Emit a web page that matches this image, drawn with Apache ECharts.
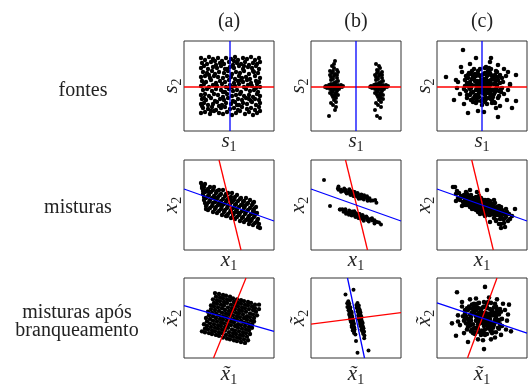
<!DOCTYPE html>
<html><head><meta charset="utf-8">
<script src="https://cdn.jsdelivr.net/npm/echarts@6.0.0/dist/echarts.min.js"></script>
<style>html,body{margin:0;padding:0;background:#fff}#c{width:531px;height:388px}</style>
</head><body><div id="c"></div>
<script>
const colTitles = ['(a)', '(b)', '(c)'];
const rowLabels = ['fontes', 'misturas', 'misturas após\nbranqueamento'];
const axisVars = ['s', 'x', 'x\u0303'];
const subX = '1', subY = '2';

// point clouds, in panel units (axis range -45..45)
const r1a = [
[-28,28],[-24,26],[-20,29],[-16,27],[-11,28],[-7,25],[-3,28],[2,27],[6,29],[9,26],[14,28],[18,27],[22,29],[26,26],[30,28],
[-27,23],[-22,22],[-18,24],[-13,21],[-9,23],[-5,22],[0,24],[4,21],[8,23],[12,22],[16,24],[20,21],[24,23],[28,22],[31,24],
[-28,18],[-25,20],[-21,17],[-16,19],[-12,18],[-8,20],[-4,17],[1,19],[5,18],[10,20],[14,17],[19,19],[23,18],[27,20],[30,17],
[-26,14],[-22,13],[-17,15],[-14,12],[-10,14],[-5,13],[-1,15],[3,12],[7,14],[11,13],[15,15],[20,12],[25,14],[29,13],
[-28,9],[-24,10],[-19,8],[-15,10],[-11,9],[-6,8],[-2,10],[2,9],[6,7],[10,10],[13,8],[17,9],[21,7],[26,10],[31,8],
[-27,5],[-23,4],[-18,6],[-13,3],[-9,5],[-4,4],[0,6],[5,3],[9,5],[14,4],[18,6],[22,3],[27,5],[30,4],
[-28,0],[-25,2],[-20,-1],[-16,1],[-12,0],[-7,2],[-3,-1],[1,1],[6,0],[10,2],[15,-1],[19,1],[23,0],[28,2],[31,-1],
[-26,-4],[-22,-3],[-17,-5],[-13,-3],[-8,-4],[-4,-6],[0,-3],[4,-5],[8,-4],[12,-6],[17,-3],[21,-5],[25,-4],[29,-6],
[-28,-9],[-24,-8],[-20,-10],[-15,-8],[-11,-9],[-6,-11],[-2,-8],[3,-10],[7,-9],[11,-8],[15,-10],[20,-9],[24,-11],[28,-8],[31,-10],
[-27,-13],[-23,-14],[-18,-12],[-14,-15],[-9,-13],[-5,-14],[-1,-12],[4,-15],[9,-13],[13,-14],[17,-12],[22,-15],[26,-13],[30,-14],
[-28,-18],[-25,-17],[-21,-19],[-16,-18],[-12,-16],[-7,-19],[-3,-17],[2,-18],[6,-16],[10,-19],[14,-17],[18,-18],[23,-16],[27,-19],[31,-17],
[-26,-22],[-21,-23],[-17,-21],[-13,-24],[-8,-22],[-4,-21],[1,-23],[5,-22],[9,-24],[13,-21],[18,-23],[22,-22],[26,-24],[30,-21],
[-28,-27],[-24,-26],[-19,-28],[-15,-25],[-10,-27],[-6,-28],[-2,-26],[3,-29],[7,-27],[11,-25],[16,-28],[20,-26],[24,-29],[28,-27],[31,-25],
[-25,-12],[-2,17],[12,6],[-18,-25],[20,-13],[5,25],[-10,-20],[27,-2],[-20,11],[15,20],[-6,-6],[8,-19],[24,15],[-14,25],[3,-1],[-27,-20]
];
const r1b = [
[-22,-1],[-25,-1],[-19,-1],[-28,-1],[-16,-1],[-30,0],[-14,-1],[-23,1],[-20,-3],[-26,-3],[-18,1],[-24,-4],[-21,2],[-27,1],[-17,-3],[-22,3],[-23,-5],[-20,4],[-25,2],[-19,-5],[-29,-2],[-15,1],[-21,-2],[-24,0],[-18,-2],[-26,1],[-22,-3],[-20,0],[-31,-1],[-13,0],
[-23,7],[-21,-8],[-25,6],[-19,8],[-24,-9],[-20,-7],[-22,10],[-26,-7],[-18,5],[-23,-11],[-21,12],[-25,9],[-20,-12],[-24,13],[-22,-14],[-19,11],[-26,11],[-21,-10],[-23,15],[-20,-16],[-24,-6],[-18,-9],
[-22,18],[-21,25],[-24,20],[-19,16],[-23,-19],[-20,-21],[-25,-17],[-22,22],[-27,-30],[-18,14],[-21,-24],[-26,15],
[23,-1],[20,-1],[26,-1],[17,-1],[29,-1],[15,0],[31,-1],[22,1],[25,-3],[19,-3],[27,1],[21,-4],[24,2],[18,1],[28,-3],[23,3],[22,-5],[25,4],[20,2],[26,-5],[16,-2],[30,1],[24,-2],[21,0],[27,-2],[19,1],[23,-3],[25,0],[14,-1],[32,0],
[22,7],[24,-8],[20,6],[26,8],[21,-9],[25,-7],[23,10],[19,-7],[27,5],[22,-11],[24,12],[20,9],[25,-12],[21,13],[23,-14],[26,11],[19,11],[24,-10],[22,15],[25,-16],[21,-6],[27,-9],
[20,22],[24,18],[21,16],[26,14],[22,-19],[25,-21],[20,-17],[23,20],[21,-30],[24,-32],[27,-13],[19,-24]
];
const r1c = [
[2,-1],[5,1],[-1,2],[0,-4],[4,-5],[7,-2],[-3,-1],[3,4],[-2,5],[6,4],[1,-7],[-5,-3],[8,1],[-4,3],[3,-3],[0,1],[5,-7],[-2,-6],[7,5],[-6,1],[4,7],[1,5],[9,-4],[-1,-2],[6,-4],[2,2],[-3,-4],[4,0],[0,-1],[8,-6],[-5,5],[2,-5],[6,1],[-1,6],[3,-9],[-4,-1],[9,2],[1,-3],[5,5],[-2,0],[7,-7],[0,3],[4,3],[-6,-4],[3,1],[2,7],[-3,-7],[8,4],[6,-1],[-1,-5],
[12,2],[10,-9],[-8,7],[-9,-6],[2,12],[4,-13],[-10,1],[14,-3],[11,8],[-6,10],[-7,-10],[8,-11],[-11,-2],[13,6],[0,11],[5,10],[-3,-11],[12,-8],[-12,4],[9,11],[-9,9],[15,1],[1,-13],[7,-12],[-4,12],[13,-6],[-11,-7],[6,12],[-8,-12],[14,5],[-12,-3],[10,10],[3,13],[-5,-12],[11,-11],[-10,7],[15,-1],[-2,10],[9,-13],[-7,5],[12,9],[-13,1],[4,-12],[8,13],[-6,-9],
[18,3],[16,-12],[-14,8],[-15,-9],[3,18],[5,-18],[-17,0],[19,-6],[15,14],[-10,15],[-11,-14],[12,-16],[-16,-5],[20,8],[-2,17],[9,17],[-6,-17],[17,-10],[-17,6],[14,15],[-13,13],[20,-2],[0,-19],[10,-17],[-8,17],[18,11],[-15,-12],[7,18],[-9,-16],[21,4],[-18,-3],[13,-17],[-14,11],[22,-8],[4,19],
[16,6],[-12,-9],[11,-4],[-15,3],[6,15],[-4,15],[10,-14],[-1,-15],[17,-5],[-13,-1],[-7,12],[16,9],[3,-16],[-9,-13],[13,11],[-16,10],[9,6],[-11,12],[19,-3],[-5,-15],
[24,10],[-20,14],[26,-4],[-22,-8],[8,24],[14,-22],[-18,-18],[22,17],[-24,4],[-4,-25],[18,-20],[-12,22],[28,2],[2,-26],[-21,19],[25,-14],[16,21],[-25,-2],
[-19,36],[-36,9],[34,11],[34,-15],[16,-31],[-14,-27],[9,28],[-6,28],[-28,-14],[30,-22],[26,14],[28,1],[-26,6]
];
const r2a = [
[-28,22],[-24,21],[-19,18],[-15,18],[-10,15],[-6,15],[-1,12],[3,12],[8,10],[12,7],[17,7],[21,5],[25,3],
[-27,19],[-25,18],[-21,16],[-16,15],[-12,14],[-8,11],[-3,11],[2,8],[6,8],[11,6],[15,4],[19,2],[24,2],
[-27,17],[-22,14],[-18,13],[-13,12],[-9,10],[-4,9],[0,7],[5,5],[9,4],[14,3],[18,1],[23,0],[27,-2],
[-26,14],[-24,13],[-20,10],[-15,9],[-11,8],[-6,6],[-2,5],[3,3],[7,1],[12,0],[16,-1],[21,-3],[25,-4],
[-26,11],[-21,9],[-17,7],[-12,6],[-8,4],[-3,3],[1,1],[6,0],[10,-2],[15,-3],[19,-5],[24,-6],[28,-8],
[-25,8],[-23,7],[-19,5],[-14,3],[-10,2],[-5,1],[-1,-1],[4,-3],[8,-4],[13,-6],[17,-7],[22,-9],[26,-10],
[-25,5],[-20,3],[-16,2],[-11,0],[-7,-1],[-2,-3],[2,-5],[7,-6],[11,-8],[16,-9],[20,-11],[25,-12],[29,-14],
[-24,2],[-22,1],[-17,-1],[-13,-2],[-8,-4],[-4,-5],[1,-7],[5,-8],[10,-10],[14,-12],[19,-13],[23,-14],[28,-16],
[-23,-1],[-19,-3],[-14,-4],[-10,-6],[-5,-7],[-1,-9],[4,-10],[8,-12],[13,-13],[17,-15],[22,-16],[26,-18],[30,-19],
[-23,-4],[-21,-5],[-16,-7],[-12,-8],[-7,-10],[-3,-11],[2,-13],[6,-14],[11,-16],[15,-17],[20,-19],[24,-20],[29,-22],[31,-23],
[-20,13],[2,5],[15,-1],[-8,0],[20,-15],[-14,7],[8,-7],[25,-7],[-25,15],[-2,-11]
];
const r2b = [
[-2.0,11.0],[0.2,11.3],[-4.2,10.7],[1.5,8.8],[-5.5,13.2],[3.7,9.1],[-7.7,12.9],[-1.7,8.8],[-2.3,13.2],[1.5,11.9],[-5.5,10.1],[5.9,9.4],[-9.9,12.6],[2.1,7.5],[-6.1,14.5],[7.5,7.8],[-11.5,14.2],[5.3,10.6],[-9.3,11.4],[6.2,7.2],[-10.2,14.9],[9.7,8.1],[-13.7,13.9],[7.8,5.6],[-11.8,16.4],[11.3,6.5],[-15.3,15.5],[11.0,8.7],[-15.0,13.3],[13.5,6.8],[-17.5,15.2],[14.7,4.3],[16.9,4.6],[-17.5,18.4],[19.2,4.9],[-18.1,16.5],[11.6,4.3],[0.8,10.0],[-4.8,12.0],[-1.4,12.9],[-2.6,9.1],[2.7,6.2],[-6.7,15.8],[20.4,2.3],[-32,25],[-0.7,11.6],[-3.3,10.4],[2.1,10.7],[-6.1,11.3],[4.9,6.5],[-0.4,9.4],[-3.6,12.6],[8.1,9.7],
[3.0,-11.0],[0.8,-11.3],[5.2,-10.7],[-0.5,-8.8],[6.5,-13.2],[-2.7,-9.1],[8.7,-12.9],[2.7,-8.8],[3.3,-13.2],[-0.5,-11.9],[6.5,-10.1],[-4.9,-9.4],[10.9,-12.6],[-1.1,-7.5],[7.1,-14.5],[-6.5,-7.8],[12.5,-14.2],[-4.3,-10.6],[10.3,-11.4],[-5.2,-7.2],[11.2,-14.9],[-8.7,-8.1],[14.7,-13.9],[-6.8,-5.6],[12.8,-16.4],[-10.3,-6.5],[16.3,-15.5],[-10.0,-8.7],[16.0,-13.3],[-12.5,-6.8],[18.5,-15.2],[-13.7,-4.3],[-15.9,-4.6],[18.5,-18.4],[-16.2,-4.4],[19.1,-16.5],[-10.6,-4.3],[0.2,-10.0],[5.8,-12.0],[2.4,-12.9],[3.6,-9.1],[-1.7,-6.2],[7.7,-15.8],[23,-17.5],[25,-19.5],[21,-17],[1.7,-11.6],[4.3,-10.4],[-1.1,-10.7],[7.1,-11.3],[-3.9,-6.5],[1.4,-9.4],[4.6,-12.6],[-7.1,-9.7],[-26,-1]
];
const r2c = [
[1,-1],[3,1],[-1,-4],[5,4],[-3,-2],[7,-10],[-5,6],[0,0],[2,-6],[4,2],[-2,-1],[6,5],[-4,-7],[8,-2],[-6,-1],[9,-8],[-7,5],[10,1],[-8,-4],[11,-6],
[1,5],[3,-11],[-1,7],[5,-5],[-3,9],[7,-2],[-5,-4],[0,-8],[2,3],[4,-4],[-2,5],[6,-8],[-4,3],[8,4],[-6,8],[9,-4],[-7,1],[12,-2],[-9,4],[13,-10],
[1,-4],[3,5],[-1,1],[5,-2],[-3,-6],[7,1],[-5,2],[2,0],[4,-9],[-2,-9],[6,-1],[10,-7],[-8,6],[0,3],[8,-10],[-4,-3],[11,1],[-10,1],[12,-13],[-6,-5],
[14,-6],[-12,4],[15,-2],[-13,1],[16,-10],[-14,9],[17,-5],[-15,0],[18,-14],[-16,7],[19,-2],[-11,10],[20,-10],[-17,5],[13,2],[-12,-2],[21,-7],[-18,10],[14,-15],[-19,3],
[22,-14],[-20,8],[15,-8],[-14,3],[17,-1],[-10,-4],[18,-7],[-16,1],[16,-3],[-13,7],[19,-11],[-9,-2],[13,-7],[-11,4],[20,-5],[-15,11],[21,-14],[-17,0],
[3,-3],[-2,2],[9,-1],[-7,3],[11,-9],[-4,0],[6,-5],[-9,7],[14,-10],[0,-3],[10,-4],[-6,4],[16,-7],[4,-1],[-11,7],[12,-5],[2,-9],[-3,3],[18,-10],[7,-7],
[23,-9],[-21,9],[24,-12],[-22,5],[25,-7],[-23,12],[26,-16],[-24,7],[27,-9],[-25,14],[28,-14],[-26,11],[30,-11],[33,-4],[-27,18],[19,-19],[19,-23],[-20,-1],[8,-17],[-5,13],
[12,5],[-12,15],[24,-4],[22,-18],[-16,13],[-29,18],[-26,4],[5,15],[14,-16],[23,-22],[17,-19]
];
const r3a = [
[-14,28],[-10,27],[-6,26],[-3,25],[1,24],[4,22],[8,21],[12,20],[15,19],[19,18],[22,17],[26,15],[30,15],
[-13,24],[-9,23],[-6,22],[-2,21],[1,20],[5,18],[9,17],[12,16],[16,15],[19,14],[23,13],[26,11],[30,10],
[-16,21],[-12,20],[-9,19],[-5,18],[-2,17],[2,15],[6,14],[9,13],[13,12],[16,11],[20,10],[24,9],[27,7],
[-15,17],[-12,16],[-8,15],[-5,14],[-1,12],[3,11],[6,10],[10,9],[13,8],[17,7],[21,5],[24,4],[28,3],
[-18,14],[-15,13],[-11,12],[-7,11],[-4,9],[0,8],[3,7],[7,6],[10,5],[14,4],[18,2],[21,1],[25,0],
[-18,10],[-14,9],[-10,8],[-7,6],[-3,5],[0,4],[4,3],[8,2],[11,1],[15,0],[18,-2],[22,-3],[25,-4],
[-21,7],[-17,6],[-13,5],[-10,3],[-6,2],[-3,1],[1,0],[5,-1],[8,-2],[12,-3],[15,-5],[19,-6],[23,-7],
[-20,3],[-16,2],[-13,0],[-9,-1],[-6,-2],[-2,-3],[2,-4],[5,-5],[9,-7],[12,-8],[16,-9],[20,-10],[23,-11],
[-23,0],[-19,-1],[-16,-3],[-12,-4],[-8,-5],[-5,-6],[-1,-7],[2,-8],[6,-9],[9,-11],[13,-12],[17,-13],[20,-14],
[-22,-4],[-19,-6],[-15,-7],[-11,-8],[-8,-9],[-4,-10],[-1,-11],[3,-13],[6,-14],[10,-15],[14,-16],[17,-17],[21,-18],
[-25,-7],[-22,-9],[-18,-10],[-14,-11],[-11,-12],[-7,-13],[-4,-14],[0,-16],[4,-17],[7,-18],[11,-19],[14,-20],[18,-21],
[-24,-12],[-21,-13],[-17,-14],[-14,-15],[-10,-16],[-7,-17],[-3,-19],[1,-20],[4,-21],[8,-22],[11,-23],[15,-24],[19,-25],
[-27,-15],[-24,-16],[-20,-17],[-17,-18],[-13,-19],[-10,-20],[-6,-22],[-2,-23],[1,-24],[5,-25],[8,-26],[12,-27],[16,-28]
];
const r3b = [
[-7.7,18.8],[-8.8,16.5],[-6.7,15.9],[-7.3,13.7],[-8.6,12.5],[-5.7,12.0],[-7.2,10.7],[-5.8,10.0],[-7.5,8.6],[-5.9,7.9],[-4.5,7.1],[-6.6,5.7],[-5.0,5.0],[-6.8,3.7],[-4.3,3.1],[-5.4,1.9],[-3.6,1.2],[-5.7,-0.2],[-4.3,-1.0],[-4.9,-2.1],[-3.1,-2.8],[-5.2,-4.2],[-3.4,-4.9],[-3.8,-6.0],[-2.0,-6.6],[-4.2,-8.1],[-2.5,-8.8],[-4.3,-10.1],[-1.7,-10.6],[-2.8,-11.9],[-1.5,-12.6],[-3.3,-14.0],[-1.7,-14.7],[-2.0,-16.8],[-0.6,-18.6],
[-4.1,0.6],[-5.8,-1.8],[-3.3,-2.3],[-5.9,1.3],[-2.7,-4.2],[-5.5,3.4],[-3.2,-6.3],[-4.3,5.7],[-10.5,26.5],[0,-26],[1.5,-39],
[1.5,16.8],[0.4,14.6],[2.8,14.0],[1.8,12.8],[0.6,11.6],[2.9,11.0],[1.9,9.8],[3.8,9.1],[1.6,7.7],[3.2,7.0],[4.5,6.2],[2.6,4.8],[4.3,4.1],[2.3,2.7],[4.2,2.1],[3.5,0.9],[5.4,0.2],[3.6,-1.1],[5.2,-1.8],[3.4,-3.2],[5.9,-3.7],[4.9,-4.9],[6.7,-5.6],[4.5,-7.1],[6.2,-7.8],[4.4,-9.1],[6.9,-9.6],[5.9,-10.9],[7.5,-11.6],[5.4,-13.0],[7.1,-13.7],[6.4,-14.8],[8.1,-15.5],[7.1,-17.8],[8.4,-19.6],[8.2,-22.7],
[5.3,1.8],[2.8,-0.8],[4.1,3.6],[4.5,-1.4],[2.6,6.3],[5.2,-3.3],[4.1,-5.6],[3.5,8.5],[-2.5,31.7],[12.5,-36.6]
];
const r3c = [
[1,-1],[4,2],[-2,1],[0,-5],[3,-4],[6,-1],[-3,-3],[2,3],[-1,5],[5,5],[2,-7],[-5,-1],[7,2],[-4,4],[4,-2],[-1,-2],[6,-6],[-2,-6],[7,-3],[-6,2],[3,6],[0,3],[8,-1],[-3,0],[5,-5],[1,1],[-4,-5],[3,0],[1,-3],[-5,4],[4,-7],[-1,7],[2,-9],[-6,-3],[8,3],[0,-1],[6,4],[-2,3],[5,-8],[1,5],[-4,-7],[7,-5],[3,-2],[-3,6],[2,1],
[11,3],[9,-9],[-8,6],[-9,-7],[1,12],[3,-13],[-11,1],[13,-2],[10,7],[-6,9],[-7,-11],[7,-12],[-11,-3],[12,6],[-1,10],[5,11],[-4,-12],[12,-8],[-12,4],[8,10],[-9,10],[14,1],[0,-14],[9,-13],[-5,12],[13,-5],[-11,-8],[5,12],[-8,-12],[14,4],[-12,-2],[10,9],[2,13],[-5,-11],[11,-11],[-10,6],[15,-2],[-3,11],[-13,-5],[6,-11],[-7,13],
[17,4],[16,-11],[-14,9],[-14,-10],[2,18],[5,-18],[-17,-1],[18,-7],[14,13],[-10,15],[-11,-15],[11,-16],[-16,-6],[19,7],[-3,17],[9,17],[-7,-18],[17,-12],[-17,5],[13,16],[-13,13],[20,-1],[-1,-19],[10,-17],[-8,16],[18,10],[-15,-13],[6,18],[-9,-17],[-18,-3],[14,-16],[-15,11],[20,-9],[3,-19],[-19,2],
[15,7],[-13,-9],[10,-5],[-16,2],[5,16],[-5,16],[9,-15],[-2,-16],[16,-4],[-14,-1],[-8,12],[15,10],[2,-17],[-10,-13],[12,12],[-17,9],[8,5],[-12,11],[18,-2],[-6,-16],
[23,9],[-20,13],[25,-3],[-22,-8],[7,23],[13,-22],[-18,-17],[21,16],[-24,3],[-4,-24],[19,-19],[-12,21],[26,4],[1,-25],[-20,18],[24,-13],[15,21],[-24,-4],[-6,22],[9,-24],
[-25,29],[3,35],[2,-35],[-26,-20],[29,-15],[27,15],[-30,-6],[-14,-27]
];
const clouds = [[r1a, r1b, r1c], [r2a, r2b, r2c], [r3a, r3b, r3c]];

// direction lines (endpoints in panel units)
const redLines = [
  [[[-45,-1],[45,-1]], [[-45,-1],[45,-1]], [[-45,-1],[45,-1]]],
  [[[-10,45],[12,-45]], [[-10.5,45],[11.5,-45]], [[-10.3,45],[11.3,-45]]],
  [[[-15.5,-45],[17,45]], [[-45,-7],[45,6]], [[-14.5,-45],[15,45]]]
];
const blueLines = [
  [[[1,-45],[1,45]], [[0,-45],[0,45]], [[0,-45],[0,45]]],
  [[[-45,16],[45,-16]], [[-45,16],[45,-16]], [[-45,16],[45,-16]]],
  [[[-45,14],[45,-15]], [[-8.5,45],[8.5,-45]], [[-45,17],[45,-17]]]
];

const gridLeft = [184, 311, 437];
const gridTop = [41, 160, 278];
const dotSize = [4.4, 4, 4.6];   // per column
const SERIF = '"Liberation Serif", "DejaVu Serif", serif';
const rich = {
  v: { fontFamily: SERIF, fontStyle: 'italic', fontSize: 21, color: '#222', lineHeight: 20 },
  s: { fontFamily: SERIF, fontSize: 14, color: '#222', padding: [12, 0, 0, 0] }
};

const grid = [], xAxis = [], yAxis = [], series = [];
for (let r = 0; r < 3; r++) {
  for (let c = 0; c < 3; c++) {
    const i = r * 3 + c;
    grid.push({ left: gridLeft[c], top: gridTop[r], width: 90, height: 90, show: true,
      borderColor: '#333', borderWidth: 1, backgroundColor: '#fff' });
    const base = { gridIndex: i, type: 'value', min: -45, max: 45,
      axisLine: { show: false }, axisTick: { show: false }, axisLabel: { show: false }, splitLine: { show: false },
      nameLocation: 'middle', nameTextStyle: { rich: rich } };
    xAxis.push(Object.assign({}, base, { name: '{v|' + axisVars[r] + '}{s|' + subX + '}', nameGap: r === 2 ? 3 : -3 }));
    yAxis.push(Object.assign({}, base, { name: '{v|' + axisVars[r] + '}{s|' + subY + '}', nameGap: 0, nameRotate: 90 }));
    series.push({ type: 'scatter', xAxisIndex: i, yAxisIndex: i, data: clouds[r][c],
      symbol: 'circle', symbolSize: dotSize[c], itemStyle: { color: '#000', opacity: 1 }, silent: true, z: 2 });
    series.push({ type: 'line', xAxisIndex: i, yAxisIndex: i, data: redLines[r][c], symbol: 'none',
      lineStyle: { color: '#ff0000', width: 1.3 }, silent: true, z: 3 });
    series.push({ type: 'line', xAxisIndex: i, yAxisIndex: i, data: blueLines[r][c], symbol: 'none',
      lineStyle: { color: '#0000ff', width: 1.3 }, silent: true, z: 4 });
  }
}

const graphic = [];
const titleX = [229, 356, 482];
colTitles.forEach((t, k) => graphic.push({ type: 'text', x: titleX[k], y: 22,
  style: { text: t, font: '20px ' + SERIF, fill: '#222', align: 'center', verticalAlign: 'middle' } }));
const rowX = [83, 78, 77], rowY = [91, 208, 322];
rowLabels.forEach((t, k) => graphic.push({ type: 'text', x: rowX[k], y: rowY[k],
  style: { text: t, font: '20px ' + SERIF, fill: '#222', align: 'center', verticalAlign: 'middle', lineHeight: 18 } }));

const chart = echarts.init(document.getElementById('c'));
chart.setOption({ animation: false, grid, xAxis, yAxis, series, graphic });
</script></body></html>
